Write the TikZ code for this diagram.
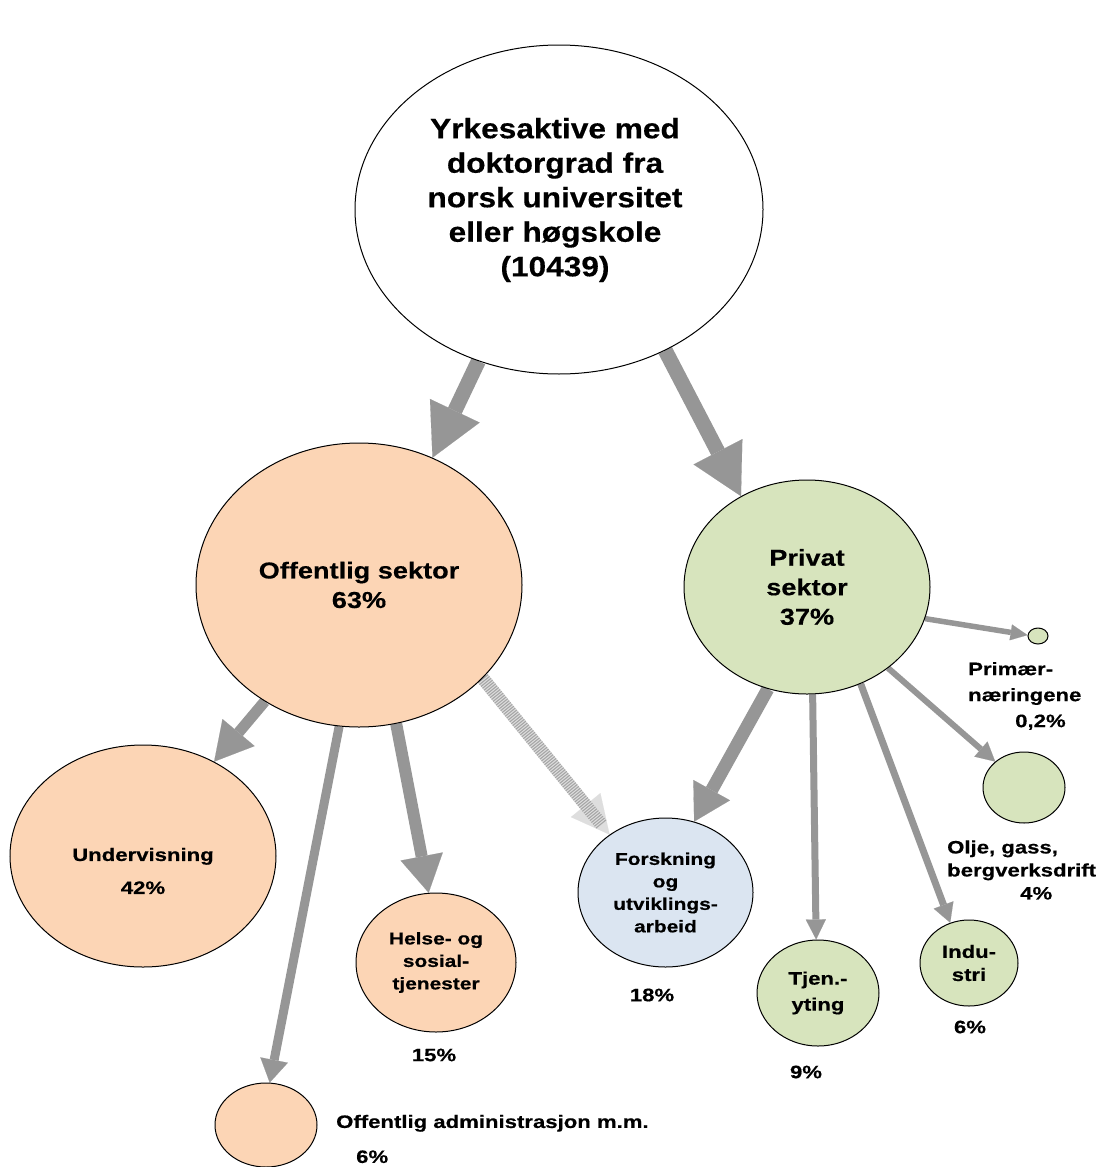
\documentclass[tikz,border=0pt]{standalone}
\usepackage{fontspec}
\newfontfamily\topfont{Liberation Sans}[FakeStretch=1.13,BoldFeatures={FakeBold=0.4}]
\newfontfamily\midfont{Liberation Sans}[FakeStretch=1.18,BoldFeatures={FakeBold=0.4}]
\newfontfamily\lblfont{Liberation Sans}[FakeStretch=1.23,BoldFeatures={FakeBold=0.5}]
\usetikzlibrary{shapes.geometric,arrows.meta,backgrounds}

\definecolor{peach}{RGB}{252,213,181}
\definecolor{sage}{RGB}{215,228,189}
\definecolor{paleblue}{RGB}{219,229,241}
\definecolor{arrowgray}{RGB}{150,150,150}
\definecolor{hatchgray}{RGB}{222,222,222}

\tikzset{
  bubble/.style={ellipse,draw=black,line width=1pt,inner sep=0pt},
  sz/.style 2 args={minimum width=#1pt,minimum height=#2pt},
  toptext/.style={font=\topfont\bfseries\fontsize{28}{34.5}\selectfont,align=center,inner sep=0pt},
  midtext/.style={font=\midfont\bfseries\fontsize{23}{29.5}\selectfont,align=center},
  lbltext/.style={font=\lblfont\bfseries\fontsize{18}{#1}\selectfont,align=center,inner sep=0pt},
  lbltext/.default=24,
  smalltext/.style={font=\lblfont\bfseries\fontsize{17}{22.5}\selectfont,align=center},
  flow/.style n args={3}{draw=arrowgray,line width=#1pt,-{Triangle[length=#2pt,width=#3pt,line width=0.1pt]}},
  hatchflow/.style={draw=hatchgray,line width=13pt,-{Triangle[length=38pt,width=38pt,line width=0.1pt]},
    postaction={draw=gray!70,line width=13pt,dash pattern=on 1.1pt off 1.3pt,shorten >=12pt,-}}
}

\begin{document}
\begin{tikzpicture}[x=1pt,y=-1pt]
\useasboundingbox (0,0) rectangle (1102,1167);

\node[bubble,fill=white,sz={408}{329}] (top) at (559,209.5) {};
\node[toptext] (toplbl) at (555,200) {Yrkesaktive med\\doktorgrad fra\\norsk universitet\\eller høgskole\\(10439)};

\node[bubble,fill=peach,sz={326}{284},midtext] (off) at (359,585) {Offentlig sektor\\63\%};
\node[bubble,fill=sage,sz={246}{214},midtext] (priv) at (807,587) {Privat\\sektor\\37\%};

\node[bubble,fill=peach,sz={266}{222}] (und) at (143,856) {};
\node[lbltext=33] (undlbl) at (143,871) {Undervisning\\42\%};
\node[bubble,fill=peach,sz={160}{139},smalltext] (helse) at (436,962.5) {Helse- og\\sosial-\\tjenester};
\node[bubble,fill=peach,sz={102}{84}] (adm) at (266,1125) {};
\node[bubble,fill=paleblue,sz={175}{149},smalltext] (fou) at (665.5,892.5) {Forskning\\og\\utviklings-\\arbeid};
\node[bubble,fill=sage,sz={122}{106},lbltext=26] (tjen) at (818,993) {Tjen.-\\yting};
\node[bubble,fill=sage,sz={98}{86},lbltext=23] (ind) at (969,963) {Indu-\\stri};
\node[bubble,fill=sage,sz={82}{71}] (olje) at (1024,787.5) {};
\node[bubble,fill=sage,sz={20}{16}] (prim) at (1038,636) {};

\node[lbltext] (helsepct) at (434,1055) {15\%};
\node[lbltext] (foupct) at (652,995) {18\%};
\node[lbltext] (tjenpct) at (806,1072) {9\%};
\node[lbltext] (indpct) at (970,1027) {6\%};
\node[lbltext=26,align=left,anchor=west] (primlbl) at (968,696) {Primær-\\næringene\\\hspace*{47pt}0,2\%};
\node[lbltext=23,align=left,anchor=west] (oljelbl) at (947,870) {Olje, gass,\\bergverksdrift\\\hspace*{73pt}4\%};
\node[lbltext=35,align=left,anchor=west] (admlbl) at (336,1139) {Offentlig administrasjon m.m.\\\hspace*{20pt}6\%};

\begin{scope}[on background layer]
\draw[flow={15}{52}{55}] (top.-118) -- (off.60);
\draw[flow={15}{50}{55}] (top.-53) -- (priv.126);
\draw[flow={11}{38}{42}] (off.-129) -- (und.53);
\draw[flow={12}{37}{43}] (off.-75) -- (helse.96);
\draw[flow={9}{23}{28}] (off.-98) -- (adm.85);
\draw[hatchflow] (off.-37) -- (fou.134);
\draw[flow={13}{36}{42}] (priv.-111) -- (fou.68);
\draw[flow={7}{20}{20}] (priv.-87) -- (tjen.92);
\draw[flow={7}{19}{21}] (priv.-61) -- (ind.115);
\draw[flow={6}{19}{20}] (priv.-45) -- (olje.138);
\draw[flow={5.5}{17}{16}] (priv.-15) -- (prim.175);
\end{scope}
\end{tikzpicture}
\end{document}
